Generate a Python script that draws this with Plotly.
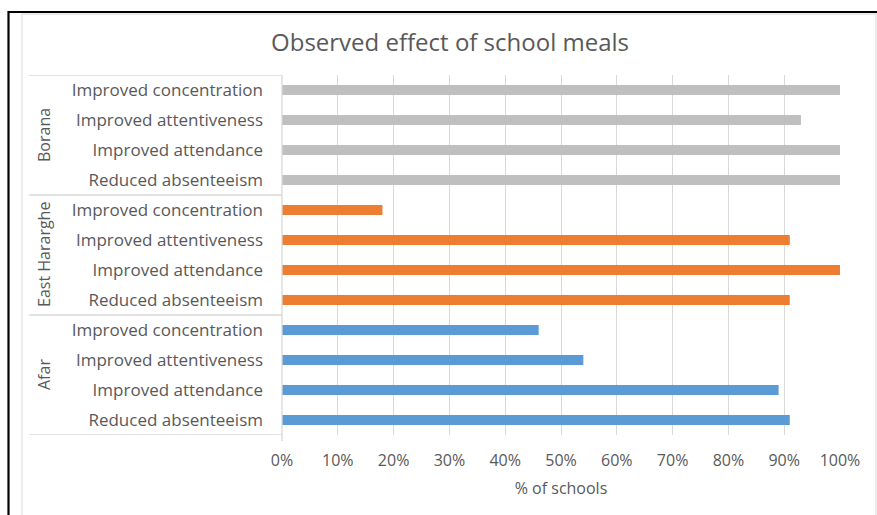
import plotly.graph_objects as go

# Data
regions = ["Afar", "East Hararghe", "Borana"]
effects = ["Reduced absenteeism", "Improved attendance", "Improved attentiveness", "Improved concentration"]
afar_vals = [91, 89, 54, 46]
east_hararghe_vals = [91, 100, 91, 18]
borana_vals = [100, 100, 93, 100]
colors = ["#5B9BD5", "#ED7D31", "#BFBFBF"]
x_ticks = [0, 10, 20, 30, 40, 50, 60, 70, 80, 90, 100]

series = [afar_vals, east_hararghe_vals, borana_vals]

FONT = "Open Sans"
TXT = "#595959"
LINE = "#D9D9D9"

fig = go.Figure()
tickvals, ticktext = [], []
n = len(effects)
for gi, (reg, vals, col) in enumerate(zip(regions, series, colors)):
    ys = [gi * n + i for i in range(n)]
    tickvals += ys
    ticktext += effects
    fig.add_trace(go.Bar(
        x=vals, y=ys, orientation="h", name=reg,
        marker=dict(color=col, line=dict(width=0)),
        width=0.34, showlegend=False,
        hovertemplate=reg + " - %{text}: %{x}%<extra></extra>", text=effects, textposition="none",
    ))

total = n * len(regions)

# Plot area geometry in pixels (for paper-based decoration)
W, H = 877, 515
L, R, T, B = 282, 37, 75, 80
pw, ph = W - L - R, H - T - B

def px(x):
    return (x - L) / pw

def py(y):
    return (H - B - y) / ph

shapes = []
# group separators (horizontal lines in the category box)
for k in range(len(regions) + 1):
    yv = k * n - 0.5
    shapes.append(dict(type="line", xref="paper", yref="y", x0=px(29), x1=0, y0=yv, y1=yv,
                       line=dict(color=LINE, width=1.3)))
# axis line at the left of plot
shapes.append(dict(type="line", xref="paper", yref="paper", x0=0, x1=0, y0=py(441), y1=1,
                   line=dict(color=LINE, width=1.3)))
# chart area border
shapes.append(dict(type="rect", xref="paper", yref="paper", x0=px(22), x1=px(876), y0=py(530), y1=py(14),
                   line=dict(color="#E3E3E3", width=1.3), layer="below"))
# outer black frame lines (top and left)
shapes.append(dict(type="line", xref="paper", yref="paper", x0=px(8), x1=px(880), y0=py(12), y1=py(12),
                   line=dict(color="black", width=2)))
shapes.append(dict(type="line", xref="paper", yref="paper", x0=px(8.5), x1=px(8.5), y0=py(520), y1=py(11),
                   line=dict(color="black", width=2.2)))

annotations = []
for gi, reg in enumerate(regions):
    annotations.append(dict(
        text=reg, x=px(44), xref="paper", y=gi * n + (n - 1) / 2, yref="y",
        textangle=-90, showarrow=False, xanchor="center", yanchor="middle",
        font=dict(family=FONT, size=16, color=TXT),
    ))

fig.update_layout(
    width=W, height=H,
    margin=dict(l=L, r=R, t=T, b=B),
    paper_bgcolor="white", plot_bgcolor="white",
    title=dict(text="Observed effect of school meals", x=(271 + 629) / 2 / W, xanchor="center",
               y=1 - 43 / H, yanchor="middle",
               font=dict(family=FONT, size=24, color=TXT)),
    xaxis=dict(range=[0, 100], tickvals=x_ticks, ticktext=[f"{v}%" for v in x_ticks],
               showgrid=True, gridcolor=LINE, gridwidth=1.3, zeroline=False, showline=False,
               ticks="", ticklabelstandoff=14,
               tickfont=dict(family=FONT, size=16, color=TXT),
               title=dict(text="% of schools", font=dict(family=FONT, size=16, color=TXT), standoff=12),
               fixedrange=True),
    yaxis=dict(range=[-0.5, total - 0.5], tickvals=tickvals, ticktext=ticktext,
               showgrid=False, zeroline=False, showline=False, ticks="",
               ticklabelstandoff=18,
               tickfont=dict(family=FONT, size=17, color=TXT), fixedrange=True),
    shapes=shapes, annotations=annotations,
    font=dict(family=FONT, color=TXT),
)

fig.write_html("out.html")
